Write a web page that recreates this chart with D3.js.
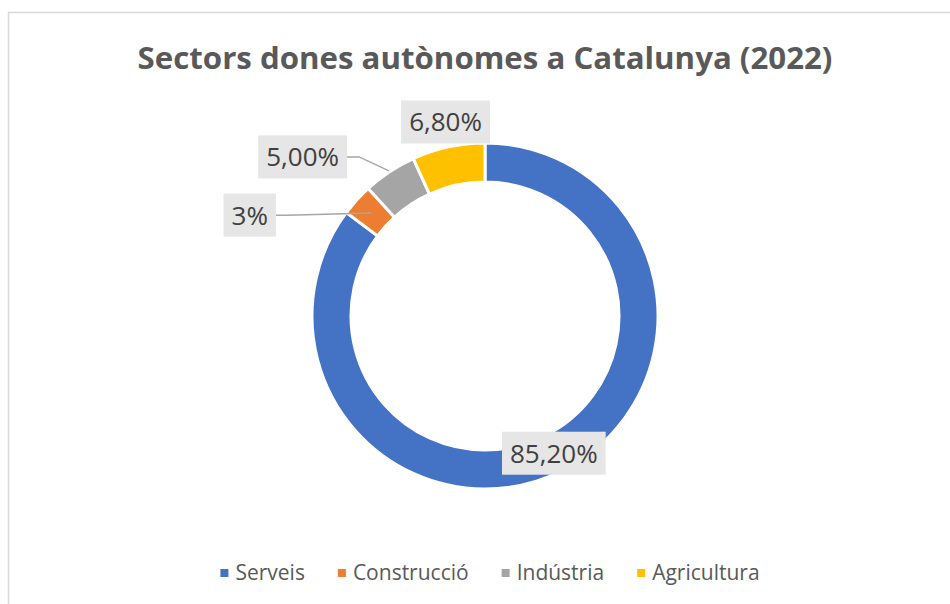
<!DOCTYPE html>
<html>
<head>
<meta charset="utf-8">
<script src="https://cdn.jsdelivr.net/npm/d3@7"></script>
<style>
  body { margin: 0; background: #fff; }
  svg { display: block; font-family: "Open Sans", sans-serif; }
</style>
</head>
<body>
<svg id="chart" width="950" height="604"></svg>
<script>
const TITLE = 'Sectors dones autònomes a Catalunya (2022)';
const categories = ['Serveis', 'Construcció', 'Indústria', 'Agricultura'];
const values = [85.2, 3, 5, 6.8];
const valueLabels = ['85,20%', '3%', '5,00%', '6,80%'];
const colors = ['#4472C4', '#ED7D31', '#A5A5A5', '#FFC000'];

// where each data label sits (polar, relative to the donut centre), Excel-style
const labelPlacement = [
    { angle: null, radius: null, leader: false },   // centroid
    { angle: 293.2, radius: 256, leader: true, target: 'centroid' },
    { angle: 311.1, radius: 242, leader: true, target: 'outer' },
    { angle: 348.5, radius: 198, leader: false }
];

const width = 950, height = 604;
const cx = 485, cy = 316;
const outerR = 173, innerR = 134;

const svg = d3.select('#chart');

// chart area border
svg.append('rect')
    .attr('x', 8.5).attr('y', 12.5)
    .attr('width', width + 10).attr('height', height + 10)
    .attr('fill', '#fff')
    .attr('stroke', '#d9d9d9')
    .attr('stroke-width', 1.5);

// title, squeezed to roughly the width Calibri would give
const title = svg.append('text')
    .attr('x', cx).attr('y', 69)
    .attr('text-anchor', 'middle')
    .attr('font-weight', 700)
    .attr('font-size', 30)
    .attr('fill', '#595959')
    .text(TITLE);
var tw = title.node().getComputedTextLength();
title.attr('font-size', 30 * 695 / tw);

const pie = d3.pie().sort(null).value(d => d);
const arcs = pie(values);
const arc = d3.arc().innerRadius(innerR).outerRadius(outerR);

const g = svg.append('g').attr('transform', 'translate(' + cx + ',' + cy + ')');

g.selectAll('path.slice')
    .data(arcs)
    .enter().append('path')
        .attr('class', 'slice')
        .attr('d', arc)
        .attr('fill', (d, i) => colors[i])
        .attr('stroke', '#fff')
        .attr('stroke-width', 3);

function polar(deg, r) {
    var a = deg * Math.PI / 180;
    return [r * Math.sin(a), -r * Math.cos(a)];
}

const LABEL_FONT = 26;
const padX = 8, boxH = 43;

arcs.forEach((d, i) => {
    var place = labelPlacement[i];
    var pos;
    if (place.angle === null) {
        pos = arc.centroid(d);
    } else {
        pos = polar(place.angle, place.radius);
    }

    var lg = g.append('g');
    var rect = lg.append('rect').attr('fill', '#e6e6e6');
    var txt = lg.append('text')
        .attr('x', pos[0]).attr('y', pos[1] + LABEL_FONT * 0.36)
        .attr('text-anchor', 'middle')
        .attr('font-size', LABEL_FONT)
        .attr('fill', '#404040')
        .text(valueLabels[i]);
    var w = txt.node().getComputedTextLength() + padX * 2;
    rect.attr('x', pos[0] - w / 2).attr('y', pos[1] - boxH / 2)
        .attr('width', w).attr('height', boxH);

    if (place.leader) {
        var mid = (d.startAngle + d.endAngle) / 2;
        var r = place.target === 'centroid' ? (innerR + outerR) / 2 : outerR + 1;
        var tx = r * Math.sin(mid), ty = -r * Math.cos(mid);
        var sx = pos[0] + w / 2, sy = pos[1];
        g.insert('polyline', 'g')
            .attr('points', [[sx, sy], [sx + 12, sy], [tx, ty]].map(p => p.join(',')).join(' '))
            .attr('fill', 'none')
            .attr('stroke', '#a6a6a6')
            .attr('stroke-width', 1.5);
    }
});

// legend
const legend = svg.append('g');
var lx = 0;
categories.forEach((c, i) => {
    var item = legend.append('g').attr('transform', 'translate(' + lx + ',0)');
    item.append('rect')
        .attr('x', 0).attr('y', -4)
        .attr('width', 8).attr('height', 8)
        .attr('fill', colors[i]);
    var t = item.append('text')
        .attr('x', 15).attr('y', 7)
        .attr('font-size', 21)
        .attr('fill', '#595959')
        .text(c);
    lx += 15 + t.node().getComputedTextLength() + 33;
});
lx -= 33;
legend.attr('transform', 'translate(' + (490 - lx / 2) + ',573)');
</script>
</body>
</html>
